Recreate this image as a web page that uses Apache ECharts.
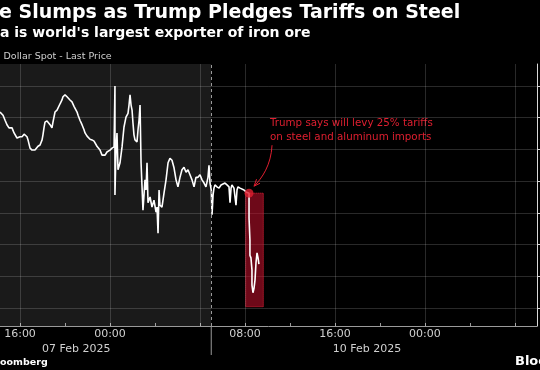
<!DOCTYPE html>
<html><head><meta charset="utf-8">
<script src="https://cdn.jsdelivr.net/npm/echarts@6/dist/echarts.min.js"></script>
<style>html,body{margin:0;padding:0;background:#000;}#c{width:540px;height:370px;}</style>
</head><body><div id="c"></div>
<script>
// ---- data (x = trading hours since 06 Feb 16:00, weekend removed) ----
const timeH = [-1.78,-1.51,-1.33,-1.16,-0.98,-0.89,-0.71,-0.53,-0.44,-0.27,-0.18,0,0.18,0.36,0.44,0.62,0.71,0.89,1.07,1.16,1.33,1.42,1.6,1.78,1.96,2.04,2.13,2.22,2.4,2.49,2.67,2.84,2.93,3.11,3.29,3.38,3.56,3.73,3.82,4.0,4.18,4.27,4.44,4.62,4.8,4.89,5.07,5.16,5.33,5.51,5.69,5.78,5.96,6.04,6.22,6.4,6.58,6.67,6.84,6.93,7.11,7.29,7.38,7.56,7.73,7.82,8.0,8.18,8.27,8.36,8.44,8.44,8.53,8.62,8.71,8.89,9.07,9.24,9.42,9.6,9.69,9.78,9.87,9.96,10.04,10.13,10.22,10.4,10.49,10.58,10.67,10.76,10.84,10.93,11.02,11.11,11.2,11.29,11.38,11.56,11.73,11.91,12.09,12.18,12.27,12.36,12.44,12.62,12.8,12.98,13.16,13.33,13.51,13.69,13.87,14.04,14.22,14.4,14.58,14.76,14.93,15.11,15.29,15.47,15.64,15.82,16.0,16.18,16.36,16.53,16.71,16.8,16.89,
  17.0,17.07,17.16,17.24,17.33,17.51,17.69,17.87,18.04,18.22,18.4,18.58,18.67,18.76,18.84,19.02,19.2,19.29,19.38,19.56,19.73,19.91,20.09,20.36,20.36,20.36,20.44,20.44,20.53,20.62,20.62,20.71,20.8,20.89,20.98,21.07,21.16,21.24];
const price = [0.63009,0.63004,0.62996,0.62989,0.62984,0.62981,0.62984,0.62976,0.62973,0.62968,0.62965,0.62970,0.62970,0.62974,0.62976,0.62970,0.62965,0.62952,0.62949,0.62946,0.62949,0.62951,0.62955,0.62957,0.62965,0.62973,0.62984,0.62993,0.62995,0.62993,0.62989,0.62984,0.62993,0.63009,0.63012,0.63015,0.63022,0.63028,0.63033,0.63036,0.63033,0.63031,0.63028,0.63025,0.63018,0.63015,0.63009,0.63004,0.62996,0.62989,0.62981,0.62976,0.62971,0.62970,0.62966,0.62965,0.62963,0.62962,0.62955,0.62952,0.62949,0.62941,0.62938,0.62941,0.62946,0.62949,0.62949,0.62952,0.62952,0.62954,0.63050,0.62878,0.62949,0.62976,0.62918,0.62929,0.62954,0.62985,0.63001,0.63007,0.63020,0.63036,0.63020,0.63012,0.62992,0.62973,0.62965,0.62962,0.62981,0.62996,0.63020,0.62929,0.62894,0.62854,0.62878,0.62902,0.62886,0.62929,0.62866,0.62875,0.62859,0.62870,0.62851,0.62859,0.62818,0.62886,0.62862,0.62859,0.62881,0.62902,0.62929,0.62936,0.62933,0.62921,0.62902,0.62891,0.62906,0.62918,0.62922,0.62914,0.62918,0.62910,0.62902,0.62891,0.62906,0.62906,0.62910,0.62902,0.62897,0.62891,0.62906,0.62925,0.62897,
  0.62886,0.62847,0.62878,0.62889,0.62894,0.62891,0.62889,0.62894,0.62891,0.62897,0.62894,0.62891,0.62866,0.62889,0.62894,0.62889,0.62862,0.62886,0.62891,0.62889,0.62886,0.62886,0.62883,0.62881,0.62862,0.62842,0.62807,0.62783,0.62779,0.62760,0.62736,0.62724,0.62731,0.62744,0.62772,0.62787,0.62779,0.62769];

const xMin = -1.78, xMax = 45.96;
const yMin = 0.626716, yMax = 0.630847;
const sessionBreak = 17;                       // 07 Feb close / 10 Feb open
const xGridHours = [0, 8, 16, 20, 28, 36, 44];
const xTickHours = [0, 4, 8, 12, 16, 20, 24, 28, 32, 36, 40, 44];
const tickHours  = [0, 8, 20, 28, 36];
const tickLabels = ['16:00', '00:00', '08:00', '16:00', '00:00'];
const dateHours  = [5.0, 30.84];
const dateLabels = ['07 Feb 2025', '10 Feb 2025'];
const yGridValues = [0.6270, 0.6275, 0.6280, 0.6285, 0.6290, 0.6295, 0.6300, 0.6305];
const eventHour = 20.36, eventPrice = 0.62881;
const highlightHours  = [20.06, 21.63];
const highlightPrices = [0.62702, 0.62881];

const titleText = "Aussie Slumps as Trump Pledges Tariffs on Steel";
const subtitleText = "Australia is world's largest exporter of iron ore";
const legendText = "Australian Dollar Spot - Last Price";
const noteText = "Trump says will levy 25% tariffs\non steel and aluminum imports";
const sourceText = "Source: Bloomberg";
const brandText = "Bloomberg";

const FONT = "'DejaVu Sans', sans-serif";
const gridColor = 'rgba(255,255,255,0.16)';
const red = '#e01f30';

const chart = echarts.init(document.getElementById('c'), null, {renderer: 'canvas'});
const lineData = timeH.map((h, i) => [h, price[i]]);

chart.setOption({
  backgroundColor: '#000',
  animation: false,
  grid: {left: 0, right: 3, top: 64, bottom: 44},
  xAxis: {
    type: 'value', min: xMin, max: xMax,
    axisLine: {show: true, onZero: false, lineStyle: {color: '#9a9a9a', width: 1}},
    axisTick: {show: true, inside: true, length: 3, customValues: xTickHours, lineStyle: {color: '#9a9a9a'}},
    splitLine: {show: false},
    axisLabel: {
      customValues: tickHours,
      color: '#d0d0d0', fontFamily: FONT, fontSize: 11, margin: 3,
      formatter: v => { const i = tickHours.indexOf(v); return i >= 0 ? tickLabels[i] : ''; }
    }
  },
  yAxis: {
    type: 'value', position: 'right', min: yMin, max: yMax,
    axisLine: {show: true, onZero: false, lineStyle: {color: '#d8d8d8', width: 1}},
    axisTick: {show: true, customValues: yGridValues, length: 4, lineStyle: {color: '#d8d8d8'}},
    axisLabel: {show: false, customValues: yGridValues},
    splitLine: {show: true, customValues: yGridValues, lineStyle: {color: gridColor, width: 1}}
  },
  series: [
    {
      type: 'line', data: [], z: 1, silent: true,
      markArea: {
        silent: true,
        itemStyle: {color: 'rgba(255,255,255,0.1)'},
        data: [[{xAxis: xMin}, {xAxis: sessionBreak}]]
      },
      markLine: {
        silent: true, symbol: 'none', label: {show: false},
        lineStyle: {color: gridColor, type: 'solid', width: 1},
        data: xGridHours.map(h => ({xAxis: h}))
          .concat([{xAxis: sessionBreak, lineStyle: {color: '#9a9a9a', type: [3, 3], width: 1}}])
      }
    },
    {
      name: 'price', type: 'line', data: lineData, z: 3,
      showSymbol: false, symbol: 'none',
      lineStyle: {color: '#ffffff', width: 1.6}
    },
    {
      type: 'line', data: [], z: 5, silent: true,
      markArea: {
        silent: true,
        itemStyle: {color: 'rgba(200,16,46,0.55)', borderColor: '#e8233a', borderWidth: 1, borderType: 'dotted'},
        data: [[{xAxis: highlightHours[0], yAxis: highlightPrices[1]}, {xAxis: highlightHours[1], yAxis: highlightPrices[0]}]]
      }
    },
    {
      type: 'scatter', data: [[eventHour, eventPrice]], z: 6,
      symbolSize: 9, itemStyle: {color: red}
    }
  ]
});

function textW(str, font) {
  const c = document.createElement('canvas').getContext('2d');
  c.font = font; return c.measureText(str).width;
}
const ep = chart.convertToPixel({gridIndex: 0}, [eventHour, eventPrice]);
const axisY = chart.convertToPixel({gridIndex: 0}, [0, yMin])[1];
const breakX = chart.convertToPixel({gridIndex: 0}, [sessionBreak, yMin])[0];
const ex = ep[0], ey = ep[1];

const titleFont = "bold 19px 'DejaVu Sans'";
const subFont = "bold 14px 'DejaVu Sans'";
const legFont = "9.5px 'DejaVu Sans'";
const srcFont = "bold 9.5px 'DejaVu Sans'";
const noteFont = "10.3px 'DejaVu Sans'";

const g = [
  {type: 'text', style: {text: titleText, x: -textW('Aussi', titleFont) - 1, y: 13, fill: '#fff', font: titleFont, verticalAlign: 'middle'}},
  {type: 'text', style: {text: subtitleText, x: -textW('Australi', subFont), y: 33, fill: '#fff', font: subFont, verticalAlign: 'middle'}},
  {type: 'text', style: {text: legendText, x: 3.5 - textW('Australian ', legFont), y: 57, fill: '#cfcfcf', font: legFont, verticalAlign: 'middle'}},
  {type: 'text', style: {text: sourceText, x: -textW('Source: Bl', srcFont), y: 363, fill: '#fff', font: srcFont, verticalAlign: 'middle'}},
  {type: 'text', style: {text: brandText, x: 515, y: 362, fill: '#fff', font: "bold 13px 'DejaVu Sans'", verticalAlign: 'middle'}},
  {type: 'line', shape: {x1: breakX, y1: axisY, x2: breakX, y2: axisY + 29}, style: {stroke: '#9a9a9a', lineWidth: 1}},
  {type: 'text', style: {text: noteText, x: ex + 21, y: ey - 77, fill: red, font: noteFont, lineHeight: 14, verticalAlign: 'top'}},
  {type: 'bezierCurve', shape: {x1: ex + 23, y1: ey - 48, cpx1: ex + 22, cpy1: ey - 28, cpx2: ex + 13, cpy2: ey - 15, x2: ex + 5, y2: ey - 7},
    style: {stroke: red, fill: null, lineWidth: 1}},
  {type: 'polyline', shape: {points: [[ex + 7.5, ey - 14], [ex + 5, ey - 7], [ex + 11, ey - 10]]}, style: {stroke: red, fill: null, lineWidth: 1}}
];
dateHours.forEach((h, i) => {
  const px = chart.convertToPixel({gridIndex: 0}, [h, yMin])[0];
  g.push({type: 'text', style: {text: dateLabels[i], x: px, y: 349, fill: '#d0d0d0', font: "11px 'DejaVu Sans'", align: 'center', verticalAlign: 'middle'}});
});
chart.setOption({graphic: g});
</script>
</body></html>
